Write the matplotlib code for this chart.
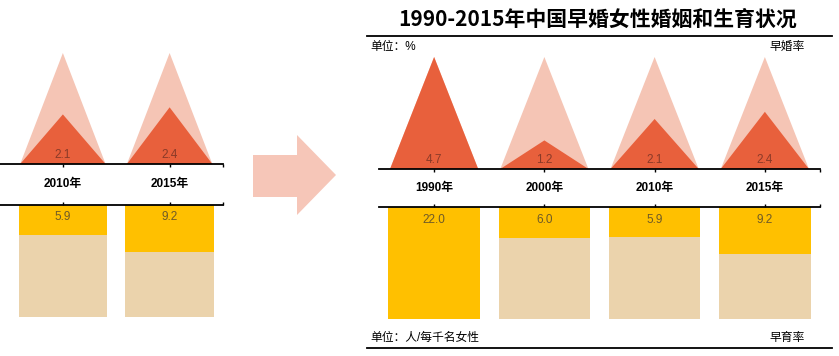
import matplotlib
matplotlib.use('Agg')
import matplotlib.pyplot as plt
from matplotlib.patches import Polygon
from matplotlib.lines import Line2D

years = ['1990年', '2000年', '2010年', '2015年']
early_marriage = [4.7, 1.2, 2.1, 2.4]   # 早婚率, %
early_birth = [22.0, 6.0, 5.9, 9.2]     # 早育率, 人/每千名女性

RED = '#E8603C'
PINK = '#F5C5B5'
YELLOW = '#FFC000'
TAN = '#EBD3AC'

plt.rcParams['font.family'] = ['Liberation Sans', 'Noto Sans CJK SC']

W, H = 839, 356
fig = plt.figure(figsize=(W / 100, H / 100), dpi=100)


def rect(left, top, right, bottom):
    # pixel box -> figure fraction
    return [left / W, 1 - bottom / H, (right - left) / W, (bottom - top) / H]


def panel(ax_top, ax_bot, xlim, year_off, val_off):
    tri_max = max(early_marriage)
    bar_max = max(early_birth)
    x = range(len(years))
    for i, m in enumerate(early_marriage):
        ax_top.fill([i - 0.4, i, i + 0.4], [0, tri_max, 0], color=PINK, lw=0)
        ax_top.fill([i - 0.4, i, i + 0.4], [0, m, 0], color=RED, lw=0)
        if xlim[0] < i < xlim[1]:
            ax_top.annotate(f'{m:.1f}', (i, 0), xytext=(0, 9), textcoords='offset pixels',
                            ha='center', va='center', fontsize=8.5, color='#8a3a28')
            ax_top.annotate(years[i], (i, 0), xytext=(0, -year_off), textcoords='offset pixels',
                            ha='center', va='center', fontsize=8.5, fontweight='bold',
                            annotation_clip=False)
    ax_bot.bar(x, [bar_max] * len(years), width=0.83, color=TAN, lw=0)
    ax_bot.bar(x, early_birth, width=0.83, color=YELLOW, lw=0)
    for i, b in enumerate(early_birth):
        if xlim[0] < i < xlim[1]:
            ax_bot.annotate(f'{b:.1f}', (i, 0), xytext=(0, -val_off), textcoords='offset pixels',
                            ha='center', va='center', fontsize=8.5, color='#6e5a28')

    for ax, side in ((ax_top, 'bottom'), (ax_bot, 'top')):
        for s in ax.spines.values():
            s.set_visible(False)
        ax.spines[side].set_visible(True)
        ax.spines[side].set_linewidth(1.3)
        ax.set_yticks([])
        ax.set_xticks([0, 1, 2, 3, 3.5])
        ax.set_xticklabels([])
        ax.patch.set_alpha(0)
        ax.set_xlim(xlim)   # after set_xticks, which would widen the view
    ax_top.set_ylim(0, tri_max)
    ax_bot.set_ylim(bar_max, 0)
    ax_top.tick_params(axis='x', direction='out', length=2.5, width=1)
    ax_bot.tick_params(axis='x', direction='out', length=2.5, width=1,
                       top=True, bottom=False)


# cropped copy on the left
lt = fig.add_axes(rect(0, 53, 223, 164))
lb = fig.add_axes(rect(0, 205, 223, 317))
panel(lt, lb, (1.411, 3.5), 20, 12)

# full chart on the right
rt = fig.add_axes(rect(379, 57, 820, 169))
rb = fig.add_axes(rect(379, 207, 820, 319))
panel(rt, rb, (-0.5, 3.5), 19, 13)

# arrow between them
arrow_px = [(253, 155), (297, 155), (297, 135), (336, 175),
            (297, 215), (297, 197), (253, 197)]
fig.add_artist(Polygon([(px / W, 1 - py / H) for px, py in arrow_px],
                       closed=True, color='#F6C6B8', lw=0, transform=fig.transFigure))

# title and rules
fig.text(598 / W, 1 - 19 / H, '1990-2015年中国早婚女性婚姻和生育状况',
         ha='center', va='center', fontsize=15, fontweight='bold',
         family=['Noto Sans CJK SC'])
for y in (36, 348):
    fig.add_artist(Line2D([367 / W, 832 / W], [1 - y / H, 1 - y / H],
                          color='black', lw=1.3, transform=fig.transFigure))

fig.text(370 / W, 1 - 47 / H, '单位：%', ha='left', va='center', fontsize=8.5)
fig.text(805 / W, 1 - 47 / H, '早婚率', ha='right', va='center', fontsize=8.5)
fig.text(370 / W, 1 - 338 / H, '单位：人/每千名女性', ha='left', va='center', fontsize=8.5)
fig.text(805 / W, 1 - 338 / H, '早育率', ha='right', va='center', fontsize=8.5)

fig.savefig('out.png', dpi=100)
